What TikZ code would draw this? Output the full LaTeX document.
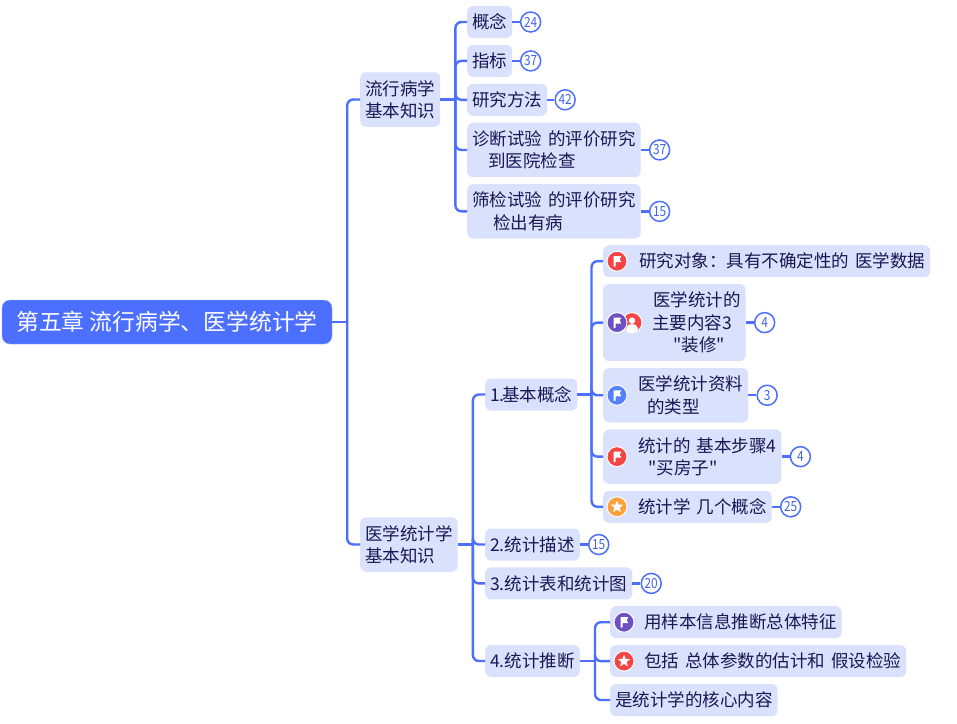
\documentclass[tikz,border=0pt]{standalone}
\usepackage{fontspec}
\usepackage{xcolor}
\usetikzlibrary{positioning}
\newfontfamily\mapfont{Noto Sans CJK SC}
\newfontfamily\badgefont[FakeStretch=0.85]{Noto Sans CJK SC}
\definecolor{mapblue}{RGB}{76,111,255}
\definecolor{maplight}{RGB}{217,225,252}
\definecolor{mapink}{RGB}{24,24,84}
\definecolor{flagred}{RGB}{245,68,68}
\definecolor{flagpurple}{RGB}{110,80,196}
\definecolor{flagblue}{RGB}{85,128,255}
\definecolor{flagorange}{RGB}{255,160,60}
\newcommand{\linestrut}{\rule[-4.5pt]{0pt}{22.5pt}}
\newcommand{\lead}[1]{\linestrut\hspace*{#1pt}}
\newcommand{\wordgap}{\hspace{6pt}}
\newcommand{\flagmark}{\fill[white,rounded corners=0.5pt] ([shift={(-3.5pt,5pt)}]path picture bounding box.center)
  -- ++(8pt,0pt) -- ++(-2pt,-3pt) -- ++(2pt,-3pt) -- ++(-6pt,0pt) -- ++(0pt,-4.5pt) -- ++(-2pt,0pt) -- cycle;}
\newcommand{\starmark}{\fill[white] ([shift={(90:6.5pt)}]path picture bounding box.center)
  -- ([shift={(126:2.8pt)}]path picture bounding box.center)
  \foreach \a/\b in {162/198,234/270,306/342,18/54} {
    -- ([shift={(\a:6.5pt)}]path picture bounding box.center) -- ([shift={(\b:2.8pt)}]path picture bounding box.center)
  } -- cycle;}
\newcommand{\personmark}{\fill[white] ([shift={(0pt,2pt)}]path picture bounding box.center) circle (3.2pt);
  \fill[white] ([shift={(0pt,-6pt)}]path picture bounding box.center) ellipse (6pt and 4.5pt);}

\begin{document}
\begin{tikzpicture}[
    x=1pt,y=-1pt,
    node distance=6.5pt,
    box/.style={rectangle,rounded corners=6pt,fill=maplight,text=mapink,align=left,
      inner xsep=5pt,inner ysep=4.75pt,font=\mapfont\fontsize{17.5}{22.5}\selectfont,
      execute at begin node=\linestrut,execute at end node=\linestrut},
    rootbox/.style={rectangle,rounded corners=8pt,fill=mapblue,draw=mapblue!55,text=white,
      minimum width=330pt,minimum height=44pt,font=\mapfont\fontsize{22.8}{27}\selectfont},
    badge/.style={circle,draw=mapblue,fill=white,line width=1.5pt,minimum size=20pt,inner sep=0pt,
      text=mapblue!90!black,font=\badgefont\fontsize{14}{14}\selectfont},
    icon/.style={circle,draw=white,line width=1pt,fill=#1,minimum size=20pt,inner sep=0pt},
    flagicon/.style={icon=#1,path picture={\flagmark}},
    staricon/.style={icon=#1,path picture={\starmark}},
    personicon/.style={icon=#1,path picture={\personmark}},
    branch/.style={draw=mapblue,line width=2.4pt,rounded corners=6pt}
  ]
    \useasboundingbox (0,0) rectangle (957,723);

    \node[rootbox] (root) at (167,322) {第五章 流行病学、医学统计学};
    \node[box,anchor=west] (epi) at (360,99.5) {\lead{0}流行病学\\\lead{0}基本知识};
    \node[box,anchor=west] (stats) at (360,544.5) {\lead{0}医学统计学\\\lead{0}基本知识};
    \coordinate[right=15pt of root.east] (rootjoin);
    \draw[branch] (root.east) -- (rootjoin);
    \draw[branch] (rootjoin) |- (epi.west);
    \draw[branch] (rootjoin) |- (stats.west);

    % first branch
    \node[box,anchor=west] (concept) at (467,22) {概念};
    \node[box,below=of concept.south west,anchor=north west] (index) {指标};
    \node[box,below=of index.south west,anchor=north west] (method) {研究方法};
    \node[box,below=of method.south west,anchor=north west] (diag) {\lead{0}诊断试验\wordgap 的评价研究\\\lead{16}到医院检查};
    \node[box,below=of diag.south west,anchor=north west] (screen) {\lead{0}筛检试验\wordgap 的评价研究\\\lead{21}检出有病};
    \node[badge,right=7.5pt of concept] (conceptnum) {24};
    \node[badge,right=7.5pt of index] (indexnum) {37};
    \node[badge,right=7pt of method] (methodnum) {42};
    \node[badge,right=8pt of diag] (diagnum) {37};
    \node[badge,right=8pt of screen] (screennum) {15};
    \coordinate[right=15pt of epi.east] (epijoin);
    \draw[branch] (epi.east) -- (epijoin);
    \foreach \n in {concept,index,method,diag,screen} {
      \draw[branch] (epijoin) |- (\n.west);
      \draw[branch] (\n) -- (\n num);
    }

    % second branch
    \node[box,anchor=west] (basic) at (485,394.5) {1.\hspace{-2.5pt}基本概念};
    \node[box,anchor=west] (describe) at (485,544.5) {2.统计描述};
    \node[box,below=of describe.south west,anchor=north west] (charts) {3.统计表和统计图};
    \node[box,anchor=west] (infer) at (485,661) {4.统计推断};
    \node[badge,right=8pt of describe] (describenum) {15};
    \node[badge,right=8pt of charts] (chartsnum) {20};
    \coordinate[right=15pt of stats.east] (statsjoin);
    \draw[branch] (stats.east) -- (statsjoin);
    \foreach \n in {basic,describe,charts,infer} {
      \draw[branch] (statsjoin) |- (\n.west);
    }
    \draw[branch] (describe) -- (describenum);
    \draw[branch] (charts) -- (chartsnum);

    % basic concepts
    \node[box,anchor=north west] (object) at (603,245) {\lead{31}研究对象：具有不确定性的\wordgap 医学数据};
    \node[box,below=of object.south west,anchor=north west] (content) {\lead{45}医学统计的\\\lead{44}主要内容3\\\lead{65}"装修"};
    \node[box,below=of content.south west,anchor=north west] (datatype) {\lead{30}医学统计资料\\\lead{39}的类型};
    \node[box,below=of datatype.south west,anchor=north west] (steps) {\lead{30}统计的\wordgap 基本步骤4\\\lead{40}"买房子"};
    \node[box,below=of steps.south west,anchor=north west] (terms) {\lead{30}统计学\wordgap 几个概念};
    \node[flagicon=flagred] (objecticon) at ([xshift=14pt]object.west) {};
    \node[personicon=flagred] (contentperson) at ([xshift=29pt]content.west) {};
    \node[flagicon=flagpurple] (contenticon) at ([xshift=14pt]content.west) {};
    \node[flagicon=flagblue] (datatypeicon) at ([xshift=14pt]datatype.west) {};
    \node[flagicon=flagred] (stepsicon) at ([xshift=14pt]steps.west) {};
    \node[staricon=flagorange] (termsicon) at ([xshift=14pt]terms.west) {};
    \node[badge,right=8pt of content] (contentnum) {4};
    \node[badge,right=8pt of datatype] (datatypenum) {3};
    \node[badge,right=8pt of steps] (stepsnum) {4};
    \node[badge,right=8pt of terms] (termsnum) {25};
    \coordinate[right=14pt of basic.east] (basicjoin);
    \draw[branch] (basic.east) -- (basicjoin);
    \foreach \n in {object,content,datatype,steps,terms} {
      \draw[branch] (basicjoin) |- (\n.west);
    }
    \foreach \n in {content,datatype,steps,terms} {
      \draw[branch] (\n) -- (\n num);
    }

    % inference
    \node[box,anchor=north west] (sample) at (610,606) {\lead{29}用样本信息推断总体特征};
    \node[box,below=of sample.south west,anchor=north west] (include) {\lead{29}包括\wordgap 总体参数的估计和\wordgap 假设检验};
    \node[box,below=of include.south west,anchor=north west] (core) {是统计学的核心内容};
    \node[flagicon=flagpurple] (sampleicon) at ([xshift=14pt]sample.west) {};
    \node[staricon=flagred] (includeicon) at ([xshift=14pt]include.west) {};
    \coordinate[right=15pt of infer.east] (inferjoin);
    \draw[branch] (infer.east) -- (inferjoin);
    \foreach \n in {sample,include,core} {
      \draw[branch] (inferjoin) |- (\n.west);
    }
  \end{tikzpicture}
\end{document}
